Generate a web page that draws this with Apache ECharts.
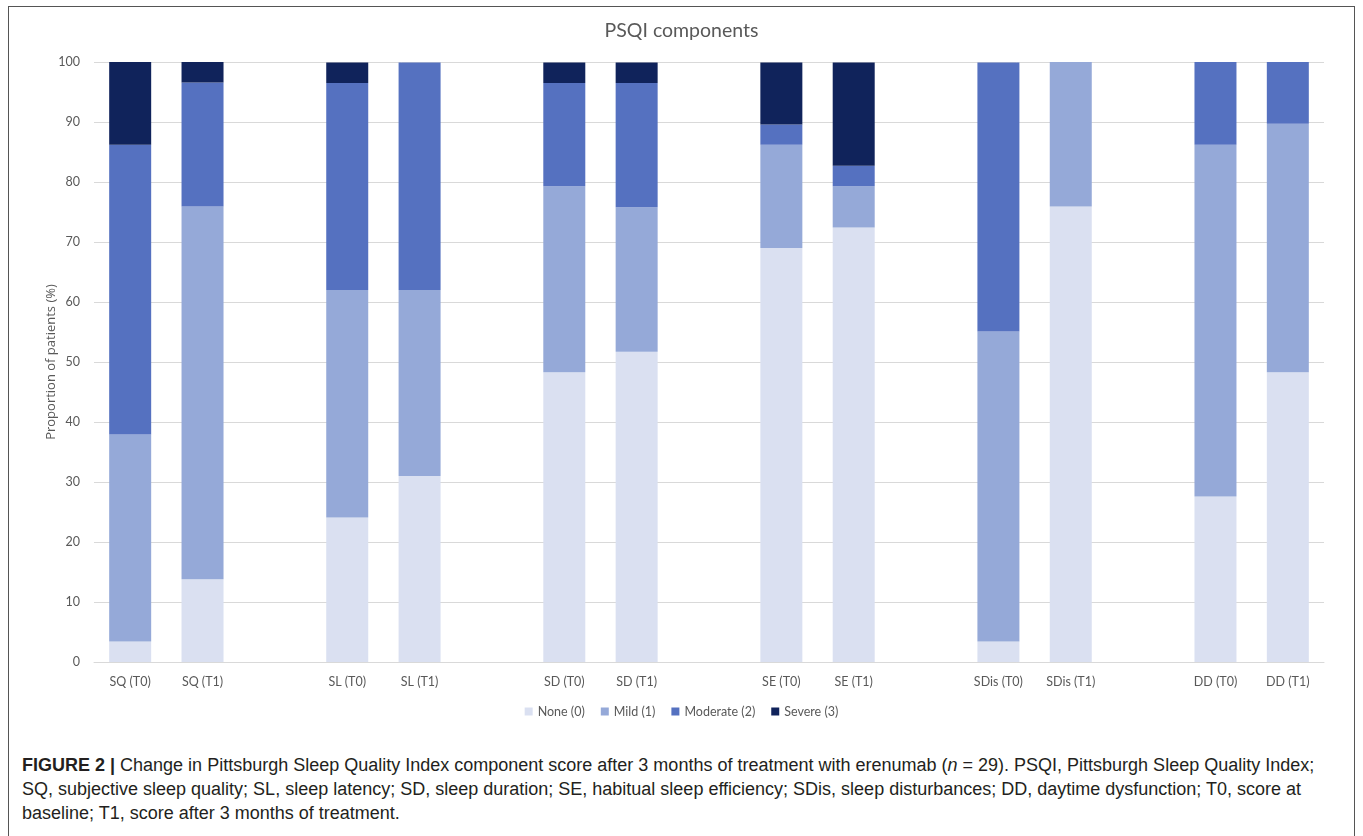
<!DOCTYPE html>
<html>
<head>
<meta charset="utf-8">
<script src="https://cdn.jsdelivr.net/npm/echarts@6/dist/echarts.min.js"></script>
<style>
html,body{margin:0;padding:0;background:#fff;width:1363px;height:836px;overflow:hidden;}
#frame{position:absolute;left:8px;top:6px;width:1347px;height:900px;border:1.5px solid #555;box-sizing:border-box;}
#chart{position:absolute;left:0;top:0;width:1363px;height:740px;}
#caption{position:absolute;left:22px;top:753px;font-family:"Liberation Sans",Arial,sans-serif;font-size:18px;line-height:24px;color:#231f20;white-space:nowrap;}
#caption b{font-weight:bold;}
</style>
</head>
<body>
<div id="frame"></div>
<div id="chart"></div>
<div id="caption"><b>FIGURE 2 | </b>Change in Pittsburgh Sleep Quality Index component score after 3 months of treatment with erenumab (<i>n</i> = 29). PSQI, Pittsburgh Sleep Quality Index;<br>SQ, subjective sleep quality; SL, sleep latency; SD, sleep duration; SE, habitual sleep efficiency; SDis, sleep disturbances; DD, daytime dysfunction; T0, score at<br>baseline; T1, score after 3 months of treatment.</div>
<script>
const categories = ['SQ (T0)','SQ (T1)','','SL (T0)','SL (T1)','','SD (T0)','SD (T1)','','SE (T0)','SE (T1)','','SDis (T0)','SDis (T1)','','DD (T0)','DD (T1)'];
const noneVals     = [3.4, 13.8, null, 24.1, 31.0, null, 48.3, 51.7, null, 69.0, 72.4, null, 3.4, 75.9, null, 27.6, 48.3];
const mildVals     = [34.5, 62.1, null, 37.9, 31.0, null, 31.0, 24.1, null, 17.2, 6.9, null, 51.7, 24.1, null, 58.6, 41.4];
const moderateVals = [48.3, 20.7, null, 34.5, 37.9, null, 17.2, 20.7, null, 3.4, 3.4, null, 44.8, 0, null, 13.8, 10.3];
const severeVals   = [13.8, 3.4, null, 3.4, 0, null, 3.4, 3.4, null, 10.3, 17.2, null, 0, 0, null, 0, 0];
const seriesNames = ['None (0)','Mild (1)','Moderate (2)','Severe (3)'];
const yTicks = [0,10,20,30,40,50,60,70,80,90,100];

const colors = ['#dae0f1','#95a9d8','#5571c0','#10235b'];
const chart = echarts.init(document.getElementById('chart'));
const font = 'Lato, "Open Sans", sans-serif';
const mk = (name, data, i) => ({
  name, type:'bar', stack:'total', data, barWidth:42,
  itemStyle:{color:colors[i]}, emphasis:{disabled:true}
});
chart.setOption({
  animation:false,
  textStyle:{fontFamily:font},
  title:{text:'PSQI components', left:'center', top:16,
    textStyle:{fontFamily:font, fontSize:19.5, fontWeight:'normal', color:'#595959'}},
  legend:{data:seriesNames, bottom:17, left:'center', itemWidth:8, itemHeight:8, itemGap:16,
    icon:'rect', textStyle:{fontFamily:font, fontSize:12.5, color:'#595959'}},
  grid:{left:94, right:39, top:62, bottom:78},
  xAxis:{type:'category', data:categories,
    axisLine:{lineStyle:{color:'#d9d9d9', width:1}}, axisTick:{show:false},
    axisLabel:{fontFamily:font, fontSize:12.5, color:'#595959', margin:13, interval:0}},
  yAxis:{type:'value', min:0, max:100, interval:10,
    name:'Proportion of patients (%)', nameLocation:'middle', nameGap:36, nameRotate:90,
    nameMoveOverlap:false,
    nameTextStyle:{fontFamily:'"Open Sans", Lato, sans-serif', fontSize:13, color:'#595959'},
    axisLine:{show:false}, axisTick:{show:false},
    axisLabel:{fontFamily:font, fontSize:12.5, color:'#595959', margin:14,
      formatter:v=>yTicks.includes(v)?String(v):''},
    splitLine:{lineStyle:{color:'#d9d9d9', width:1}}},
  series:[mk(seriesNames[0],noneVals,0),mk(seriesNames[1],mildVals,1),mk(seriesNames[2],moderateVals,2),mk(seriesNames[3],severeVals,3)]
});
</script>
</body>
</html>
